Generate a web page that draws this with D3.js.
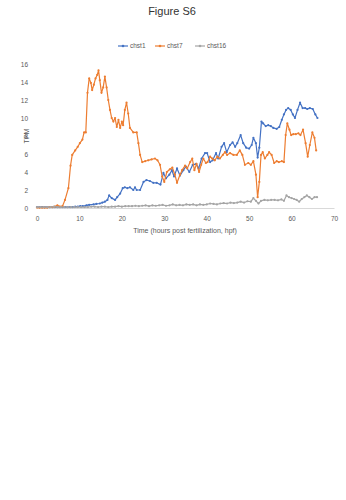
<!DOCTYPE html>
<html><head><meta charset="utf-8">
<script src="https://cdn.jsdelivr.net/npm/d3@7"></script>
<style>body{margin:0;background:#fff}svg{display:block}text{font-family:"Liberation Sans",Arial,sans-serif}</style>
</head><body><svg id="c" width="346" height="500"></svg>
<script>
const seriesNames = ["chst1", "chst7", "chst16"];
const seriesColors = ["#4472C4", "#ED7D31", "#A5A5A5"];
const xTicks = [0, 10, 20, 30, 40, 50, 60, 70];
const yTicks = [0, 2, 4, 6, 8, 10, 12, 14, 16];

const chst1 = [[0,0.1],[0.6,0.1],[1.2,0.1],[1.8,0.1],[2.4,0.1],[3,0.1],[3.6,0.1],[4.2,0.1],[4.8,0.1],[5.4,0.1],[6,0.1],[6.6,0.1],[7.2,0.1],[7.8,0.1],[8.4,0.1],[9,0.15],[9.6,0.15],[10.2,0.2],[10.8,0.2],[11.4,0.25],[11.7,0.3],[12.3,0.35],[13.3,0.4],[14,0.45],[14.8,0.5],[15.4,0.6],[16,0.7],[16.6,0.9],[17,1.4],[17.6,1.1],[18.4,0.9],[18.9,1.2],[19.6,1.6],[20.2,2.2],[20.7,2.3],[21.3,2.2],[21.9,2.3],[22.7,2.0],[23.1,2.3],[23.5,2.0],[24.3,2.0],[25.1,2.9],[25.8,3.1],[26.6,3.0],[27.4,2.8],[28.2,2.8],[29.1,2.6],[29.8,3.9],[30.4,3.3],[31.2,3.7],[31.8,4.2],[32.3,3.5],[33,4.4],[33.7,3.6],[34.5,4.2],[35.1,4.6],[35.9,4.0],[36.7,4.8],[37.5,4.9],[38.1,4.4],[38.8,5.5],[39.6,6.1],[40.1,6.1],[40.8,5.1],[41.4,5.3],[42.2,6.1],[42.7,5.5],[43.5,6.8],[44.1,7.2],[44.7,6.2],[45.5,7.0],[46.1,7.3],[46.7,6.8],[47.2,7.2],[48,8.1],[48.6,7.2],[49.3,6.7],[50,6.6],[50.6,7.0],[51,7.8],[51.6,7.2],[52,5.6],[52.4,6.7],[52.9,9.6],[53.3,9.4],[53.9,9.1],[54.5,9.2],[55.1,9.1],[55.7,8.9],[56.5,8.8],[57.1,9.0],[57.7,9.8],[58.2,10.4],[58.7,10.9],[59.2,11.1],[59.8,10.9],[60.3,10.4],[60.8,10.0],[61.4,10.9],[62,11.7],[62.6,11.1],[63.2,11.1],[63.7,11.0],[64.3,11.1],[65,11.0],[65.6,10.4],[66.1,10.0]];

const chst7 = [[0,0.05],[0.6,0.05],[1.2,0.05],[1.8,0.05],[2.4,0.05],[3,0.1],[3.6,0.1],[4.2,0.15],[4.8,0.3],[5.4,0.15],[6,0.2],[6.6,0.9],[7.4,2.2],[7.9,4.7],[8.3,5.9],[9,6.4],[9.6,6.8],[10.1,7.2],[10.7,7.6],[11.1,8.4],[11.5,8.4],[11.9,12.8],[12.3,14.4],[12.7,13.9],[13,13.1],[13.4,13.7],[13.8,14.4],[14.2,14.8],[14.5,15.3],[14.8,14.2],[15.2,12.8],[15.6,13.4],[16,14.6],[16.4,13.4],[16.8,12],[17.2,10.9],[17.6,10],[18,9.6],[18.4,10],[18.8,9],[19.2,9.8],[19.6,8.9],[20,9.6],[20.3,9.2],[20.7,10.9],[21.1,11.7],[21.5,10.5],[21.9,8.9],[22.7,8.4],[23.5,8.4],[23.9,7.2],[24.3,5.9],[24.8,5.1],[25.5,5.2],[26.2,5.3],[27,5.4],[27.8,5.5],[28.4,5.3],[29,4.8],[29.5,3.5],[30,2.9],[30.6,4.0],[31.3,4.3],[31.9,4.5],[32.5,3.7],[33,2.8],[33.7,3.7],[34.2,4.2],[34.9,4.7],[35.4,4.4],[36.1,5.1],[36.6,5.5],[37.1,4.2],[37.6,4.9],[38.2,4.0],[38.7,4.8],[39.2,5.5],[39.8,5.0],[40.2,5.1],[40.8,5.7],[41.3,5.5],[41.9,5.3],[42.5,5.7],[43.1,5.5],[43.8,5.9],[44.3,6.2],[44.8,5.9],[45.5,6.1],[46.3,5.9],[47.1,5.9],[47.8,6.4],[48.4,5.9],[49,4.8],[49.8,5.0],[50.4,4.8],[51,5.2],[51.6,3.7],[52,1.2],[52.4,2.9],[52.8,5.9],[53.2,6.2],[53.7,5.5],[54.3,5.9],[54.7,6.2],[55.3,5.9],[55.9,5.0],[56.5,5.2],[57,5.1],[57.7,5.2],[58.2,5.1],[58.6,8.1],[59,9.4],[59.5,8.7],[59.9,8.1],[60.4,8.2],[61,8.2],[61.6,8.3],[62.1,8.1],[62.7,8.7],[63.3,7.2],[63.8,5.7],[64.3,7.0],[64.9,8.4],[65.4,7.8],[65.8,6.4]];

const chst16 = [[0,0.1],[0.8,0.1],[1.6,0.1],[2.4,0.1],[3.2,0.1],[4,0.15],[4.8,0.1],[5.6,0.1],[6.4,0.1],[7.2,0.1],[8,0.1],[8.8,0.1],[9.6,0.1],[10.4,0.1],[11.2,0.1],[12,0.1],[12.8,0.15],[13.6,0.15],[14.4,0.1],[15.2,0.15],[16,0.15],[16.8,0.1],[17.6,0.15],[18.4,0.15],[19.2,0.2],[20,0.15],[20.8,0.2],[21.6,0.2],[22.4,0.2],[23.2,0.25],[24,0.2],[24.8,0.25],[25.6,0.3],[26.4,0.2],[27.2,0.3],[28,0.25],[28.8,0.3],[29.6,0.35],[30.4,0.25],[31.2,0.3],[32,0.4],[32.8,0.3],[33.6,0.35],[34.4,0.3],[35.2,0.4],[36,0.35],[36.8,0.4],[37.6,0.3],[38.4,0.4],[39.2,0.35],[40,0.4],[40.8,0.5],[41.6,0.45],[42.4,0.4],[43.2,0.5],[44,0.55],[44.8,0.5],[45.6,0.6],[46.4,0.55],[47.2,0.6],[48,0.7],[48.8,0.6],[49.6,0.75],[50.4,0.7],[51,1.1],[51.6,0.8],[52.2,0.5],[52.8,0.8],[53.6,0.9],[54.4,0.85],[55.2,0.9],[56,0.9],[56.8,0.85],[57.6,0.95],[58.2,0.8],[58.8,1.4],[59.4,1.2],[60,1.1],[60.6,1.0],[61.2,0.9],[61.8,0.7],[62.4,1.0],[63,1.2],[63.6,1.4],[64.2,1.2],[64.8,1.0],[65.4,1.2],[66,1.2]];

const allSeries = [chst1, chst7, chst16];

const svg = d3.select("#c");
const x = d3.scaleLinear().domain([0, 70]).range([37, 334]);
const y = d3.scaleLinear().domain([0, 16]).range([208, 64]);
const tickColor = "#595959";

svg.append("text").attr("x", 172).attr("y", 15).attr("text-anchor", "middle")
  .attr("font-size", 11).attr("fill", "#333").text("Figure S6");

const xAxis = svg.append("g").attr("transform", "translate(0,208)")
  .call(d3.axisBottom(x).tickValues(xTicks).tickSize(0).tickPadding(8).tickFormat(d3.format("d")));
xAxis.select(".domain").attr("stroke", "#d9d9d9");
xAxis.selectAll("text").attr("font-size", 6.5).attr("fill", tickColor).attr("font-family", "Liberation Sans, Arial, sans-serif");

const yAxis = svg.append("g").attr("transform", "translate(37,0)")
  .call(d3.axisLeft(y).tickValues(yTicks).tickSize(0).tickPadding(9).tickFormat(d3.format("d")));
yAxis.select(".domain").remove();
yAxis.selectAll("text").attr("font-size", 6.5).attr("fill", tickColor).attr("font-family", "Liberation Sans, Arial, sans-serif");

svg.append("text").attr("x", 185).attr("y", 233).attr("text-anchor", "middle")
  .attr("font-size", 7).attr("fill", tickColor).text("Time (hours post fertilization, hpf)");
svg.append("text").attr("transform", "translate(29,136) rotate(-90)").attr("text-anchor", "middle")
  .attr("font-size", 7).attr("fill", tickColor).text("TPM");

const line = d3.line().x(d => x(d[0])).y(d => y(d[1]));
[0, 1, 2].forEach(i => {
  const g = svg.append("g");
  g.append("path").datum(allSeries[i]).attr("d", line).attr("fill", "none")
    .attr("stroke", seriesColors[i]).attr("stroke-width", 1.2).attr("stroke-linejoin", "round");
  g.selectAll("circle").data(allSeries[i]).join("circle")
    .attr("cx", d => x(d[0])).attr("cy", d => y(d[1])).attr("r", 1.1)
    .attr("fill", seriesColors[i]);
});

const legendX = [118, 155, 195];
seriesNames.forEach((n, i) => {
  const g = svg.append("g").attr("transform", `translate(${legendX[i]},46)`);
  g.append("line").attr("x1", 0).attr("x2", 10).attr("y1", 0).attr("y2", 0)
    .attr("stroke", seriesColors[i]).attr("stroke-width", 1.2);
  g.append("circle").attr("cx", 5).attr("cy", 0).attr("r", 1.3).attr("fill", seriesColors[i]);
  g.append("text").attr("x", 12).attr("y", 2.3).attr("font-size", 6.5).attr("fill", tickColor).text(n);
});
</script></body></html>
